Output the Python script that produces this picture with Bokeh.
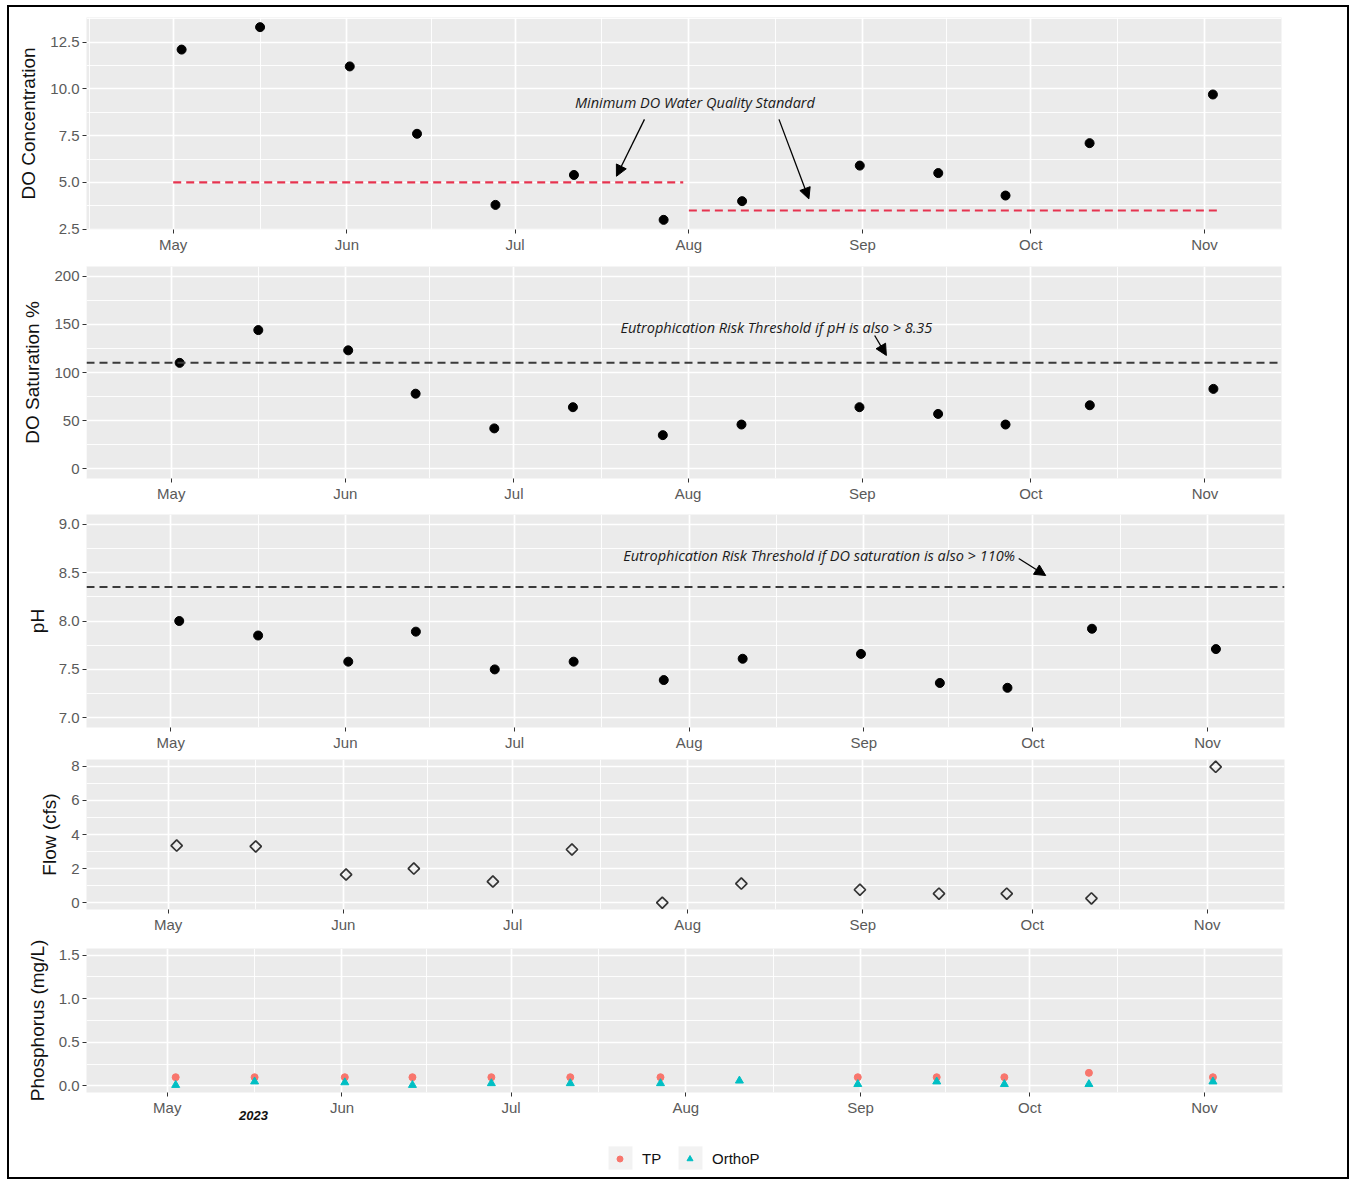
import numpy as np
import pandas as pd
from bokeh.plotting import figure
from bokeh.layouts import column
from bokeh.models import (Range1d, FixedTicker, DatetimeTickFormatter, Span, Label, Arrow,
                          NormalHead, Legend, LegendItem, PrintfTickFormatter, DatetimeAxis)
from bokeh.embed import file_html
from bokeh.resources import INLINE

# ---------------- data ----------------
sample_dates = ["2023-05-02 12:00", "2023-05-16 12:00", "2023-06-01 12:00", "2023-06-13 12:00",
                "2023-06-27 12:00", "2023-07-11 12:00", "2023-07-27 12:00", "2023-08-10 12:00",
                "2023-08-31 12:00", "2023-09-14 12:00", "2023-09-26 12:00", "2023-10-11 12:00",
                "2023-11-02 12:00"]
do_conc = [12.1, 13.3, 11.2, 7.6, 3.8, 5.4, 3.0, 4.0, 5.9, 5.5, 4.3, 7.1, 9.7]
do_sat = [110, 144, 123, 78, 42, 64, 35, 46, 64, 57, 46, 66, 83]
ph = [8.00, 7.85, 7.58, 7.89, 7.50, 7.58, 7.39, 7.61, 7.66, 7.36, 7.31, 7.92, 7.71]
flow = [3.35, 3.30, 1.65, 2.00, 1.24, 3.12, 0.00, 1.12, 0.76, 0.53, 0.53, 0.25, 7.97]
tp = [0.10, 0.10, 0.10, 0.10, 0.10, 0.10, 0.10, np.nan, 0.10, 0.10, 0.10, 0.15, 0.10]
orthop = [0.01, 0.05, 0.04, 0.01, 0.03, 0.03, 0.03, 0.06, 0.02, 0.05, 0.02, 0.02, 0.05]

# minimum DO standard segments
std_start = ["2023-05-01", "2023-08-01"]
std_end = ["2023-07-31", "2023-11-04"]
std_value = [5.0, 3.5]
do_sat_threshold = 110
ph_threshold = 8.35

month_starts = ["2023-04-01", "2023-05-01", "2023-06-01", "2023-07-01", "2023-08-01",
                "2023-09-01", "2023-10-01", "2023-11-01", "2023-12-01"]

do_conc_ticks = [2.5, 5.0, 7.5, 10.0, 12.5]
do_sat_ticks = [0, 50, 100, 150, 200]
ph_ticks = [7.0, 7.5, 8.0, 8.5, 9.0]
flow_ticks = [0, 2, 4, 6, 8]
phos_ticks = [0.0, 0.5, 1.0, 1.5]
legend_labels = ["TP", "OrthoP"]

# annotation anchors (date, value)
ann_do_text = ("2023-08-02 02:00", 9.25)
ann_do_arrows = [(("2023-07-24 02:00", 8.37), ("2023-07-19 02:00", 5.33)),
                 (("2023-08-17 02:00", 8.37), ("2023-08-22 10:00", 4.12))]
ann_sat_text = ("2023-08-16 17:00", 147)
ann_sat_arrow = (("2023-09-03 05:00", 138.4), ("2023-09-05 07:00", 117.7))
ann_ph_text = ("2023-08-24 02:00", 8.68)
ann_ph_arrow = (("2023-09-28 12:00", 8.645), ("2023-10-03 07:00", 8.47))
year_label_date = "2023-05-16 07:00"

# ---------------- layout (pixels / day offsets) ----------------
CONTENT_W = 1338
LEFT = 77
# per panel: (days before May 1 shown, days after Nov 1 shown, frame right edge)
x_pad = {"p1": (15.47, 13.74, 1272), "p2": (15.08, 13.62, 1272), "p3": (14.96, 13.67, 1275),
         "p4": (14.47, 13.69, 1275), "p5": (14.32, 13.84, 1273)}
TICK_FONT = "Liberation Sans"
ALL_FMT = ["months", "days", "hours", "years", "minutes", "seconds",
           "milliseconds", "minsec", "hourmin", "microseconds"]


def ms(s):
    return pd.Timestamp(s).value / 1e6


DAY = 86400000.0
dates = pd.to_datetime(sample_dates)
may1, nov1 = ms("2023-05-01"), ms("2023-11-01")


def fmt_all(f):
    return DatetimeTickFormatter(**{k: f for k in ALL_FMT})


def expand(lo, hi, f=0.05):
    d = (hi - lo) * f
    return lo - d, hi + d


def minor_of(ticks, lo, hi):
    step = ticks[1] - ticks[0]
    cands = [ticks[0] - step / 2] + [t + step / 2 for t in ticks]
    return [c for c in cands if lo <= c <= hi]


def make_panel(key, yrange, yticks, fmt, ylabel, frame_h, top, bottom):
    before, after, right_edge = x_pad[key]
    xs, xe = may1 - before * DAY, nov1 + after * DAY
    major_x = [ms(m) for m in month_starts if xs <= ms(m) <= xe]
    minor_x = [(ms(a) + ms(b)) / 2 for a, b in zip(month_starts[:-1], month_starts[1:])]
    minor_x = [m for m in minor_x if xs <= m <= xe]
    p = figure(x_axis_type="datetime", frame_width=right_edge - LEFT, frame_height=frame_h,
               min_border_left=LEFT, min_border_right=CONTENT_W - right_edge,
               min_border_top=top, min_border_bottom=bottom,
               x_range=Range1d(xs, xe), y_range=Range1d(*yrange),
               output_backend="svg", toolbar_location=None)
    p.background_fill_color = "#EBEBEB"
    p.border_fill_color = "white"
    p.outline_line_color = None

    p.xaxis.ticker = FixedTicker(ticks=major_x, minor_ticks=minor_x)
    p.xaxis.formatter = fmt_all("%b")
    p.yaxis.ticker = FixedTicker(ticks=yticks, minor_ticks=minor_of(yticks, *yrange))
    p.yaxis.formatter = PrintfTickFormatter(format=fmt)

    for ax in (p.xaxis[0], p.yaxis[0]):
        ax.axis_line_color = None
        ax.major_tick_line_color = "#333333"
        ax.major_tick_line_width = 1
        ax.major_tick_out = 4
        ax.major_tick_in = 0
        ax.minor_tick_line_color = None
        ax.major_label_text_font = TICK_FONT
        ax.major_label_text_font_size = "15px"
        ax.major_label_text_color = "#5a5a5a"
        ax.major_label_standoff = 3
    p.xaxis.major_label_standoff = 2

    p.yaxis.axis_label = ylabel
    p.yaxis.axis_label_text_font = TICK_FONT
    p.yaxis.axis_label_text_font_size = "19px"
    p.yaxis.axis_label_text_font_style = "normal"
    p.yaxis.axis_label_text_color = "#111111"
    p.yaxis.axis_label_standoff = 8

    for g in (p.xgrid[0], p.ygrid[0]):
        g.grid_line_color = "white"
        g.grid_line_width = 1.7
        g.minor_grid_line_color = "white"
        g.minor_grid_line_width = 0.9
    return p


def note(p, pos, text):
    p.add_layout(Label(x=ms(pos[0]), y=pos[1], text=text, text_font="Open Sans",
                       text_font_style="italic", text_font_size="14.5px",
                       text_color="#1a1a1a", text_align="center", text_baseline="middle"))


def arrow(p, seg):
    (d0, v0), (d1, v1) = seg
    p.add_layout(Arrow(end=NormalHead(size=11, fill_color="black", line_color="black"),
                       x_start=ms(d0), y_start=v0, x_end=ms(d1), y_end=v1,
                       line_color="black", line_width=1.3))


# ---------- panel 1: DO concentration ----------
p1 = make_panel("p1", expand(min(do_conc), max(do_conc)), do_conc_ticks, "%.1f",
                "DO Concentration", 212, 10, 28)
p1.segment(x0=pd.to_datetime(std_start), y0=std_value, x1=pd.to_datetime(std_end), y1=std_value,
           line_color="#E6334F", line_width=2.2, line_dash="8 5")
p1.scatter(dates, do_conc, size=9, color="black")
note(p1, ann_do_text, "Minimum DO Water Quality Standard")
for seg in ann_do_arrows:
    arrow(p1, seg)

# ---------- panel 2: DO saturation ----------
p2 = make_panel("p2", expand(0, 200), do_sat_ticks, "%d", "DO Saturation %", 212, 9, 28)
p2.add_layout(Span(location=do_sat_threshold, dimension="width", line_color="#3a3a3a",
                   line_width=2, line_dash="8 5"))
p2.scatter(dates, do_sat, size=9, color="black")
note(p2, ann_sat_text, "Eutrophication Risk Threshold if pH is also > 8.35")
arrow(p2, ann_sat_arrow)

# ---------- panel 3: pH ----------
p3 = make_panel("p3", expand(7.0, 9.0), ph_ticks, "%.1f", "pH", 213, 8, 28)
p3.add_layout(Span(location=ph_threshold, dimension="width", line_color="#3a3a3a",
                   line_width=2, line_dash="8 5"))
p3.scatter(dates, ph, size=9, color="black")
note(p3, ann_ph_text, "Eutrophication Risk Threshold if DO saturation is also > 110%")
arrow(p3, ann_ph_arrow)

# ---------- panel 4: flow ----------
p4 = make_panel("p4", expand(0, 8), flow_ticks, "%d", "Flow (cfs)", 150, 4, 28)
p4.scatter(dates, flow, marker="square", angle=np.pi / 4, size=8, fill_color=None,
           line_color="#333333", line_width=1.7)

# ---------- panel 5: phosphorus ----------
p5 = make_panel("p5", expand(0, 1.5), phos_ticks, "%.1f", "Phosphorus (mg/L)", 144, 11, 0)
p5.scatter(dates, tp, size=7, color="#F8766D")
p5.scatter(dates, orthop, marker="triangle", size=8, color="#00BFC4")
year_axis = DatetimeAxis(ticker=FixedTicker(ticks=[ms(year_label_date)]), formatter=fmt_all("%Y"),
                         axis_line_color=None, major_tick_line_color=None, major_tick_out=0,
                         major_tick_in=0, minor_tick_line_color=None, major_label_standoff=-8,
                         major_label_text_font=TICK_FONT, major_label_text_font_style="bold italic",
                         major_label_text_font_size="13px", major_label_text_color="#111111")
p5.add_layout(year_axis, "below")

# ---------- legend strip ----------
pl = figure(frame_width=1273 - LEFT, frame_height=55, min_border_left=LEFT,
            min_border_right=CONTENT_W - 1273, min_border_top=0, min_border_bottom=0,
            x_range=Range1d(0, 1), y_range=Range1d(0, 1), x_axis_location=None,
            y_axis_location=None, output_backend="svg", toolbar_location=None)
pl.grid.visible = False
pl.outline_line_color = None
pl.background_fill_color = "white"
pl.border_fill_color = "white"
key_bg = pl.quad(left=[np.nan], right=[np.nan], top=[np.nan], bottom=[np.nan],
                 fill_color="#F2F2F2", line_color=None)
tp_key = pl.scatter([np.nan], [np.nan], size=7, color="#F8766D")
op_key = pl.scatter([np.nan], [np.nan], marker="triangle", size=8, color="#00BFC4")

# grey key boxes (one single-item legend per key, blank label)
for vx in (519, 589):
    pl.add_layout(Legend(items=[LegendItem(label=" ", renderers=[key_bg])],
                         location=(vx, 5), glyph_width=30, glyph_height=29, label_standoff=0,
                         label_width=0, padding=0, margin=0, border_line_color=None,
                         background_fill_alpha=0, label_text_alpha=0,
                         label_text_font_size="1px"))

legend = Legend(items=[LegendItem(label=legend_labels[0], renderers=[tp_key]),
                       LegendItem(label=legend_labels[1], renderers=[op_key])],
                location=(526, 10), orientation="horizontal",
                glyph_width=15, glyph_height=15, label_standoff=15, spacing=20,
                padding=0, margin=0, border_line_color=None, background_fill_alpha=0,
                label_text_font=TICK_FONT, label_text_font_size="15px",
                label_text_color="#111111")
pl.add_layout(legend)

layout = column(p1, p2, p3, p4, p5, pl, styles={"border": "2px solid black"}, margin=(5, 0, 0, 7))

with open("out.html", "w") as f:
    f.write(file_html(layout, INLINE))
